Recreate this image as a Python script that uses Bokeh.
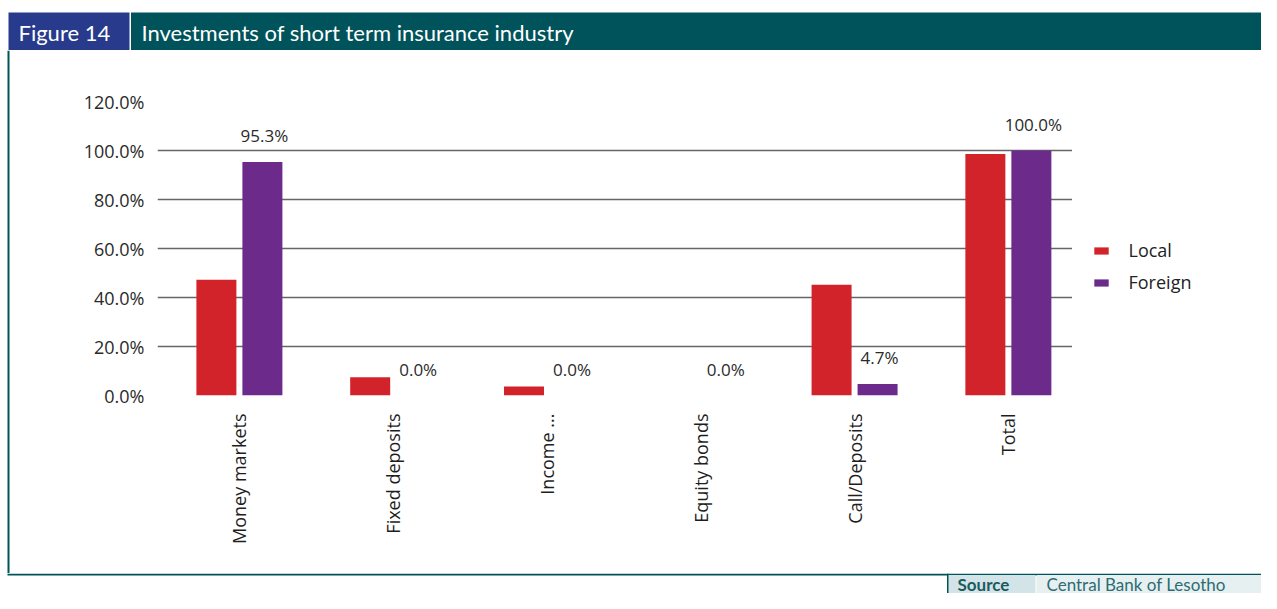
import math
from bokeh.plotting import figure
from bokeh.models import (Range1d, FixedTicker, PrintfTickFormatter, ColumnDataSource,
                          Legend, LegendItem, LabelSet)
from bokeh.layouts import column, row
from bokeh.transform import dodge
from bokeh.core.properties import value
from bokeh.embed import file_html
from bokeh.resources import INLINE

# ---------------- data ----------------
categories = ["Money markets", "Fixed deposits", "Income ...", "Equity bonds", "Call/Deposits", "Total"]
local = [47.2, 7.5, 3.7, 0.0, 45.2, 98.6]
foreign = [95.3, 0.0, 0.0, 0.0, 4.7, 100.0]
y_ticks = [0, 20, 40, 60, 80, 100, 120]
series_names = ["Local", "Foreign"]

# ---------------- styles ----------------
TEAL = "#00535b"
NAVY = "#283a8c"
RED = "#d2232a"
PURPLE = "#6c2b8b"
FONT = "Open Sans"
HFONT = "Lato"

W, H = 1261, 593
HEADER_H = 50
FOOTER_H = 20
BODY_H = H - HEADER_H - FOOTER_H   # 523
STRIP_W = 10
CHART_W = 1062
LEGEND_W = W - STRIP_W - CHART_W   # 189

UNIT = 153.8            # px per category step
BAR_W = 40 / UNIT
DODGE = 23 / UNIT


def blank(width, height, **kw):
    f = figure(width=width, height=height, x_range=Range1d(0, width), y_range=Range1d(height, 0),
               output_backend="svg", toolbar_location=None, min_border=0,
               x_axis_type=None, y_axis_type=None, frame_align=False, **kw)
    f.outline_line_color = None
    f.background_fill_color = "white"
    f.border_fill_color = "white"
    return f


# ---------------- header ----------------
hdr = blank(W, HEADER_H)
hdr.quad(left=[8], right=[129], top=[12], bottom=[HEADER_H], fill_color=NAVY, line_color=None)
hdr.quad(left=[130.5], right=[W], top=[12], bottom=[HEADER_H], fill_color=TEAL, line_color=None)
hdr.text(x=[18, 141], y=[31.5, 31.5], text=["Figure 14", "Investments of short term insurance industry"],
         text_color="white", text_font=value(HFONT), text_font_size=value("22px"),
         text_baseline="middle", text_align="left")

# ---------------- left border strip ----------------
strip = blank(STRIP_W, BODY_H)
strip.quad(left=[7], right=[9], top=[0], bottom=[BODY_H], fill_color=TEAL, line_color=None)

# ---------------- chart ----------------
src = ColumnDataSource(dict(
    pos=list(range(len(categories))),
    local=local,
    foreign=foreign,
    label=[f"{v:.1f}%" for v in foreign],
))

p = figure(width=CHART_W, height=BODY_H,
           x_range=Range1d(-0.5325, 5.417), y_range=Range1d(0, 120),
           min_border_left=147, min_border_right=0, min_border_top=51, min_border_bottom=178,
           output_backend="svg", toolbar_location=None, frame_align=False)
p.outline_line_color = None
p.background_fill_color = "white"
p.border_fill_color = "white"

r_local = p.vbar(x=dodge("pos", -DODGE, range=p.x_range), top="local", width=BAR_W,
                 source=src, fill_color=RED, line_color=None)
r_foreign = p.vbar(x=dodge("pos", DODGE, range=p.x_range), top="foreign", width=BAR_W,
                   source=src, fill_color=PURPLE, line_color=None)

p.xaxis.ticker = FixedTicker(ticks=list(range(len(categories))))
p.xaxis.major_label_overrides = {i: c for i, c in enumerate(categories)}
p.xaxis.major_label_orientation = math.pi / 2
p.xaxis.major_label_standoff = 12
p.xaxis.axis_line_color = None
p.xaxis.major_tick_line_color = None
p.xaxis.minor_tick_line_color = None
p.xaxis.major_label_text_font = FONT
p.xaxis.major_label_text_font_size = "18px"
p.xaxis.major_label_text_color = "#1e1e1e"

p.yaxis.ticker = FixedTicker(ticks=y_ticks)
p.yaxis.formatter = PrintfTickFormatter(format="%.1f%%")
p.yaxis.major_label_standoff = 7
p.yaxis.axis_line_color = None
p.yaxis.major_tick_line_color = None
p.yaxis.minor_tick_line_color = None
p.yaxis.major_label_text_font = FONT
p.yaxis.major_label_text_font_size = "18px"
p.yaxis.major_label_text_color = "#2a2a2a"

p.xgrid.visible = False
p.ygrid.grid_line_color = "#666666"
p.ygrid.grid_line_width = 1.3

labels = LabelSet(x=dodge("pos", DODGE, range=p.x_range), y="foreign", text="label", source=src,
                  x_offset=2, y_offset=15, text_align="center", text_baseline="bottom",
                  text_font=value(FONT), text_font_size=value("17px"), text_color="#2a2a2a")
p.add_layout(labels)

# ---------------- legend (own panel, zero-size proxy glyphs) ----------------
leg_fig = blank(LEGEND_W, BODY_H)
proxy_local = leg_fig.vbar(x=[0], top=[0], bottom=[0], width=0, fill_color=RED, line_color=None)
proxy_foreign = leg_fig.vbar(x=[0], top=[0], bottom=[0], width=0, fill_color=PURPLE, line_color=None)
legend = Legend(items=[LegendItem(label=series_names[0], renderers=[proxy_local]),
                       LegendItem(label=series_names[1], renderers=[proxy_foreign])],
                location=(19.5, 279), orientation="vertical",
                glyph_width=18, glyph_height=9, label_height=22, spacing=8,
                padding=0, margin=0, label_standoff=19,
                border_line_color=None, background_fill_alpha=0,
                label_text_font=FONT, label_text_font_size="18px", label_text_color="#222222")
leg_fig.add_layout(legend)

# ---------------- footer ----------------
ftr = blank(W, FOOTER_H)
ftr.quad(left=[7], right=[W], top=[0], bottom=[2], fill_color=TEAL, line_color=None)
ftr.quad(left=[947], right=[1035], top=[1.5], bottom=[FOOTER_H], fill_color="#d2e4e7", line_color=None)
ftr.quad(left=[1036], right=[W], top=[1.5], bottom=[FOOTER_H], fill_color="#e7f0f1", line_color=None)
ftr.quad(left=[946.5], right=[948], top=[0], bottom=[FOOTER_H], fill_color=TEAL, line_color=None)
ftr.text(x=[957], y=[10.5], text=["Source"], text_color="#1b5a60", text_font=value(HFONT),
         text_font_style="bold", text_font_size=value("17px"), text_baseline="middle")
ftr.text(x=[1046], y=[10.5], text=["Central Bank of Lesotho"], text_color="#2c6c72",
         text_font=value(HFONT), text_font_size=value("17px"), text_baseline="middle")

layout = column(hdr, row(strip, p, leg_fig), ftr)

with open("out.html", "w") as fh:
    fh.write(file_html(layout, INLINE))
